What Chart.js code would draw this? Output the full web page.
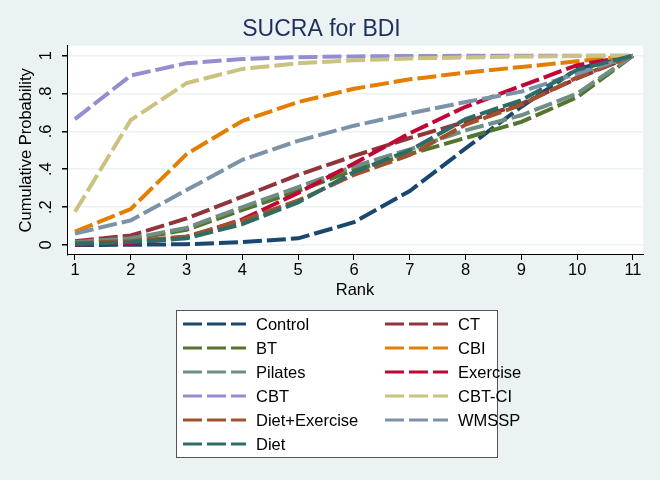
<!DOCTYPE html>
<html>
<head>
<meta charset="utf-8">
<title>SUCRA for BDI</title>
<script src="https://cdn.jsdelivr.net/npm/chart.js@4.4.0/dist/chart.umd.min.js"></script>
<style>
  html, body { margin: 0; padding: 0; background: #eaf2f3; }
</style>
</head>
<body>
<canvas id="grafico" width="660" height="480"></canvas>
<script>
// datos (probabilidad acumulada por rango)
const ranks = [1, 2, 3, 4, 5, 6, 7, 8, 9, 10, 11];
const yTicks = [0, 0.2, 0.4, 0.6, 0.8, 1];
const yTickLabels = ['0', '.2', '.4', '.6', '.8', '1'];

const names = ['Control', 'CT', 'BT', 'CBI', 'Pilates', 'Exercise', 'CBT', 'CBT-CI', 'Diet+Exercise', 'WMSSP', 'Diet'];
const control      = [0, 0.001, 0.004, 0.015, 0.035, 0.12, 0.285, 0.51, 0.73, 0.93, 1];
const ct           = [0.02, 0.05, 0.14, 0.255, 0.37, 0.47, 0.565, 0.65, 0.745, 0.88, 1];
const bt           = [0.01, 0.03, 0.08, 0.185, 0.285, 0.395, 0.48, 0.565, 0.65, 0.78, 1];
const cbi          = [0.07, 0.19, 0.48, 0.655, 0.755, 0.825, 0.875, 0.91, 0.94, 0.97, 1];
const pilates      = [0.015, 0.035, 0.09, 0.2, 0.305, 0.415, 0.505, 0.605, 0.685, 0.8, 1];
const exercise     = [0.003, 0.01, 0.04, 0.135, 0.275, 0.43, 0.59, 0.73, 0.84, 0.95, 1];
const cbt          = [0.665, 0.895, 0.96, 0.982, 0.992, 0.996, 0.998, 0.999, 1, 1, 1];
const cbtci        = [0.175, 0.66, 0.855, 0.93, 0.96, 0.975, 0.985, 0.99, 0.995, 0.998, 1];
const dietExercise = [0.01, 0.02, 0.045, 0.13, 0.235, 0.37, 0.475, 0.635, 0.74, 0.885, 1];
const wmssp        = [0.06, 0.13, 0.29, 0.45, 0.55, 0.63, 0.695, 0.755, 0.81, 0.905, 1];
const diet         = [0.005, 0.015, 0.035, 0.11, 0.225, 0.385, 0.5, 0.665, 0.765, 0.925, 1];

const series = [control, ct, bt, cbi, pilates, exercise, cbt, cbtci, dietExercise, wmssp, diet];
// colores estilo s2color de Stata
const colores = ['#1a476f', '#90353b', '#55752f', '#e37e00', '#6e8e84', '#c10534',
                 '#938dd2', '#cac27e', '#a0522d', '#7b92a8', '#2d6d66'];

const fuente = 'Liberation Sans, Arial, sans-serif';
Chart.defaults.font.family = fuente;

// fondo gris azulado y zona del grafico en blanco
const fondo = {
  id: 'fondo',
  beforeDraw(chart) {
    const ctx = chart.ctx, a = chart.chartArea;
    ctx.save();
    ctx.fillStyle = '#eaf2f3';
    ctx.fillRect(0, 0, chart.width, chart.height);
    ctx.fillStyle = '#ffffff';
    ctx.fillRect(a.left, a.top, a.right - a.left, a.bottom - a.top);
    ctx.restore();
  }
};

// etiquetas del eje y giradas, centradas en cada marca
const etiquetasY = {
  id: 'etiquetasY',
  afterDraw(chart) {
    const ctx = chart.ctx, sy = chart.scales.y;
    ctx.save();
    ctx.fillStyle = '#000';
    ctx.font = '16.5px ' + fuente;
    ctx.textAlign = 'center';
    ctx.textBaseline = 'middle';
    yTicks.forEach((v, i) => {
      ctx.save();
      ctx.translate(46, sy.getPixelForValue(v));
      ctx.rotate(-Math.PI / 2);
      ctx.fillText(yTickLabels[i], 0, 0);
      ctx.restore();
    });
    ctx.restore();
  }
};

// leyenda en dos columnas como en Stata
const leyenda = {
  id: 'leyenda',
  afterDraw(chart) {
    const ctx = chart.ctx;
    ctx.save();
    ctx.fillStyle = '#ffffff';
    ctx.fillRect(176.5, 310.5, 321, 147);
    ctx.strokeStyle = '#555';
    ctx.lineWidth = 1;
    ctx.strokeRect(176.5, 310.5, 321, 147);
    chart.data.datasets.forEach((ds, i) => {
      const col = i % 2, row = Math.floor(i / 2);
      const x0 = 183 + col * 202, y = 324 + row * 24;
      ctx.setLineDash([19, 5]);
      ctx.lineWidth = 3;
      ctx.strokeStyle = ds.borderColor;
      ctx.beginPath();
      ctx.moveTo(x0, y);
      ctx.lineTo(x0 + 63, y);
      ctx.stroke();
      ctx.setLineDash([]);
      ctx.fillStyle = '#000';
      ctx.font = '16.5px ' + fuente;
      ctx.textBaseline = 'middle';
      ctx.fillText(ds.label, x0 + 73, y + 1);
    });
    ctx.restore();
  }
};

const datasets = series.map((vals, i) => ({
  label: names[i],
  data: ranks.map((r, j) => ({ x: r, y: vals[j] })),
  borderColor: colores[i],
  backgroundColor: colores[i],
  borderWidth: 4,
  borderDash: [19, 5],
  borderCapStyle: 'butt',
  pointRadius: 0,
  tension: 0,
  fill: false,
  order: series.length - i
}));

new Chart(document.getElementById('grafico'), {
  type: 'line',
  data: { datasets: datasets },
  plugins: [fondo, etiquetasY, leyenda],
  options: {
    responsive: false,
    animation: false,
    layout: { padding: { left: 0, right: 17, top: 0, bottom: 180 } },
    plugins: {
      legend: { display: false },
      tooltip: { enabled: false },
      title: {
        display: true,
        text: 'SUCRA for BDI',
        color: '#1e2f5c',
        font: { size: 23, weight: 'normal' },
        padding: { top: 16, bottom: 2 }
      }
    },
    scales: {
      x: {
        type: 'linear',
        min: 0.857,
        max: 11.18,
        afterBuildTicks: s => { s.ticks = ranks.map(v => ({ value: v })); },
        ticks: { color: '#000', font: { size: 16.5 }, padding: 1, maxRotation: 0, autoSkip: false },
        grid: { drawOnChartArea: false, tickColor: '#000', tickLength: 5 },
        border: { color: '#000', width: 1 },
        title: { display: true, text: 'Rank', color: '#000', font: { size: 16.5 }, padding: { top: 0, bottom: 0 } },
        afterFit: s => { s.height = 45; }
      },
      y: {
        type: 'linear',
        min: -0.053,
        max: 1.053,
        afterBuildTicks: s => { s.ticks = yTicks.map(v => ({ value: v })); },
        ticks: { display: false },
        grid: { color: '#eaf2f3', lineWidth: 1.5, tickColor: '#000', tickLength: 5 },
        border: { color: '#000', width: 1 },
        title: { display: true, text: 'Cumulative Probability', color: '#000', font: { size: 16.5 }, padding: { top: 17, bottom: 0 } },
        afterFit: s => { s.width = 67; }
      }
    }
  }
});
</script>
</body>
</html>
